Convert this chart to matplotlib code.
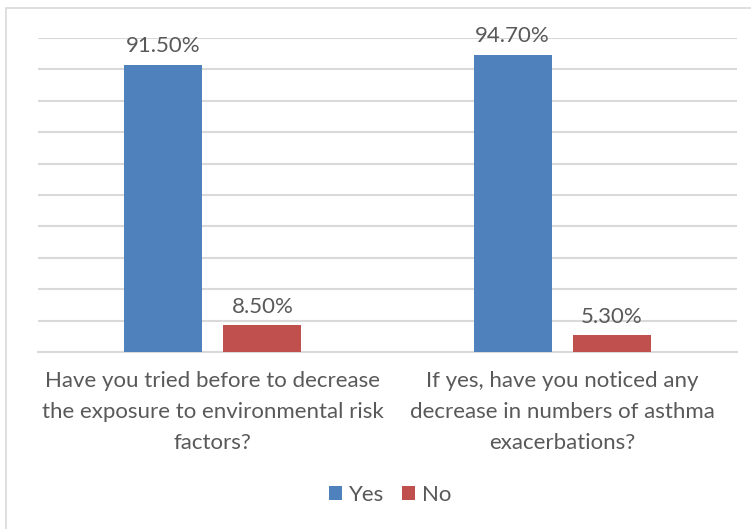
import numpy as np
import matplotlib.pyplot as plt
from matplotlib.patches import Rectangle

categories = [
    "Have you tried before to decrease\nthe exposure to environmental risk\nfactors?",
    "If yes, have you noticed any\ndecrease in numbers of asthma\nexacerbations?",
]
yes_vals = [91.5, 94.7]
no_vals = [8.5, 5.3]
series_names = ["Yes", "No"]

BLUE = "#4F81BD"
RED = "#C0504D"
TEXT = "#595959"
GRID = "#D9D9D9"

plt.rcParams["font.family"] = ["Lato", "DejaVu Sans"]

W, H = 751, 529
fig = plt.figure(figsize=(W / 100, H / 100), dpi=100)
ax = fig.add_axes([38 / W, 1 - 352 / H, (737 - 38) / W, (352 - 38) / H])

x = np.arange(len(categories))
bw = 0.223
off = 0.142
b1 = ax.bar(x - off, yes_vals, bw, color=BLUE, label=series_names[0], zorder=3)
b2 = ax.bar(x + off, no_vals, bw, color=RED, label=series_names[1], zorder=3)

for bars in (b1, b2):
    for r in bars:
        ax.annotate(f"{r.get_height():.2f}%", (r.get_x() + r.get_width() / 2, r.get_height()),
                    xytext=(0, 6), textcoords="offset points", ha="center", va="bottom",
                    fontsize=16, color=TEXT)

ax.set_xlim(-0.5, 1.5)
ax.set_ylim(0, 100)
ax.set_yticks(np.arange(0, 101, 10))
ax.yaxis.grid(True, color=GRID, linewidth=1.5, zorder=0)
ax.tick_params(axis="y", left=False, labelleft=False)
ax.tick_params(axis="x", length=0, pad=14)
ax.set_xticks(x)
ax.set_xticklabels(categories, fontsize=16, color=TEXT, linespacing=1.68)
for s in ["top", "right", "left"]:
    ax.spines[s].set_visible(False)
ax.spines["bottom"].set_color(GRID)
ax.spines["bottom"].set_linewidth(1.5)

fig.legend(loc="center", bbox_to_anchor=(390 / W, 1 - 495 / H), ncol=2, frameon=False,
           fontsize=16, labelcolor=TEXT, handlelength=0.6, handleheight=0.6,
           handletextpad=0.3, columnspacing=0.8)

# chart frame
fig.patches.append(Rectangle((6 / W, -0.1), 1.1, 1.1 - 8 / H, transform=fig.transFigure,
                             fill=False, edgecolor=GRID, linewidth=1.2))

fig.savefig("out.png", dpi=100)
